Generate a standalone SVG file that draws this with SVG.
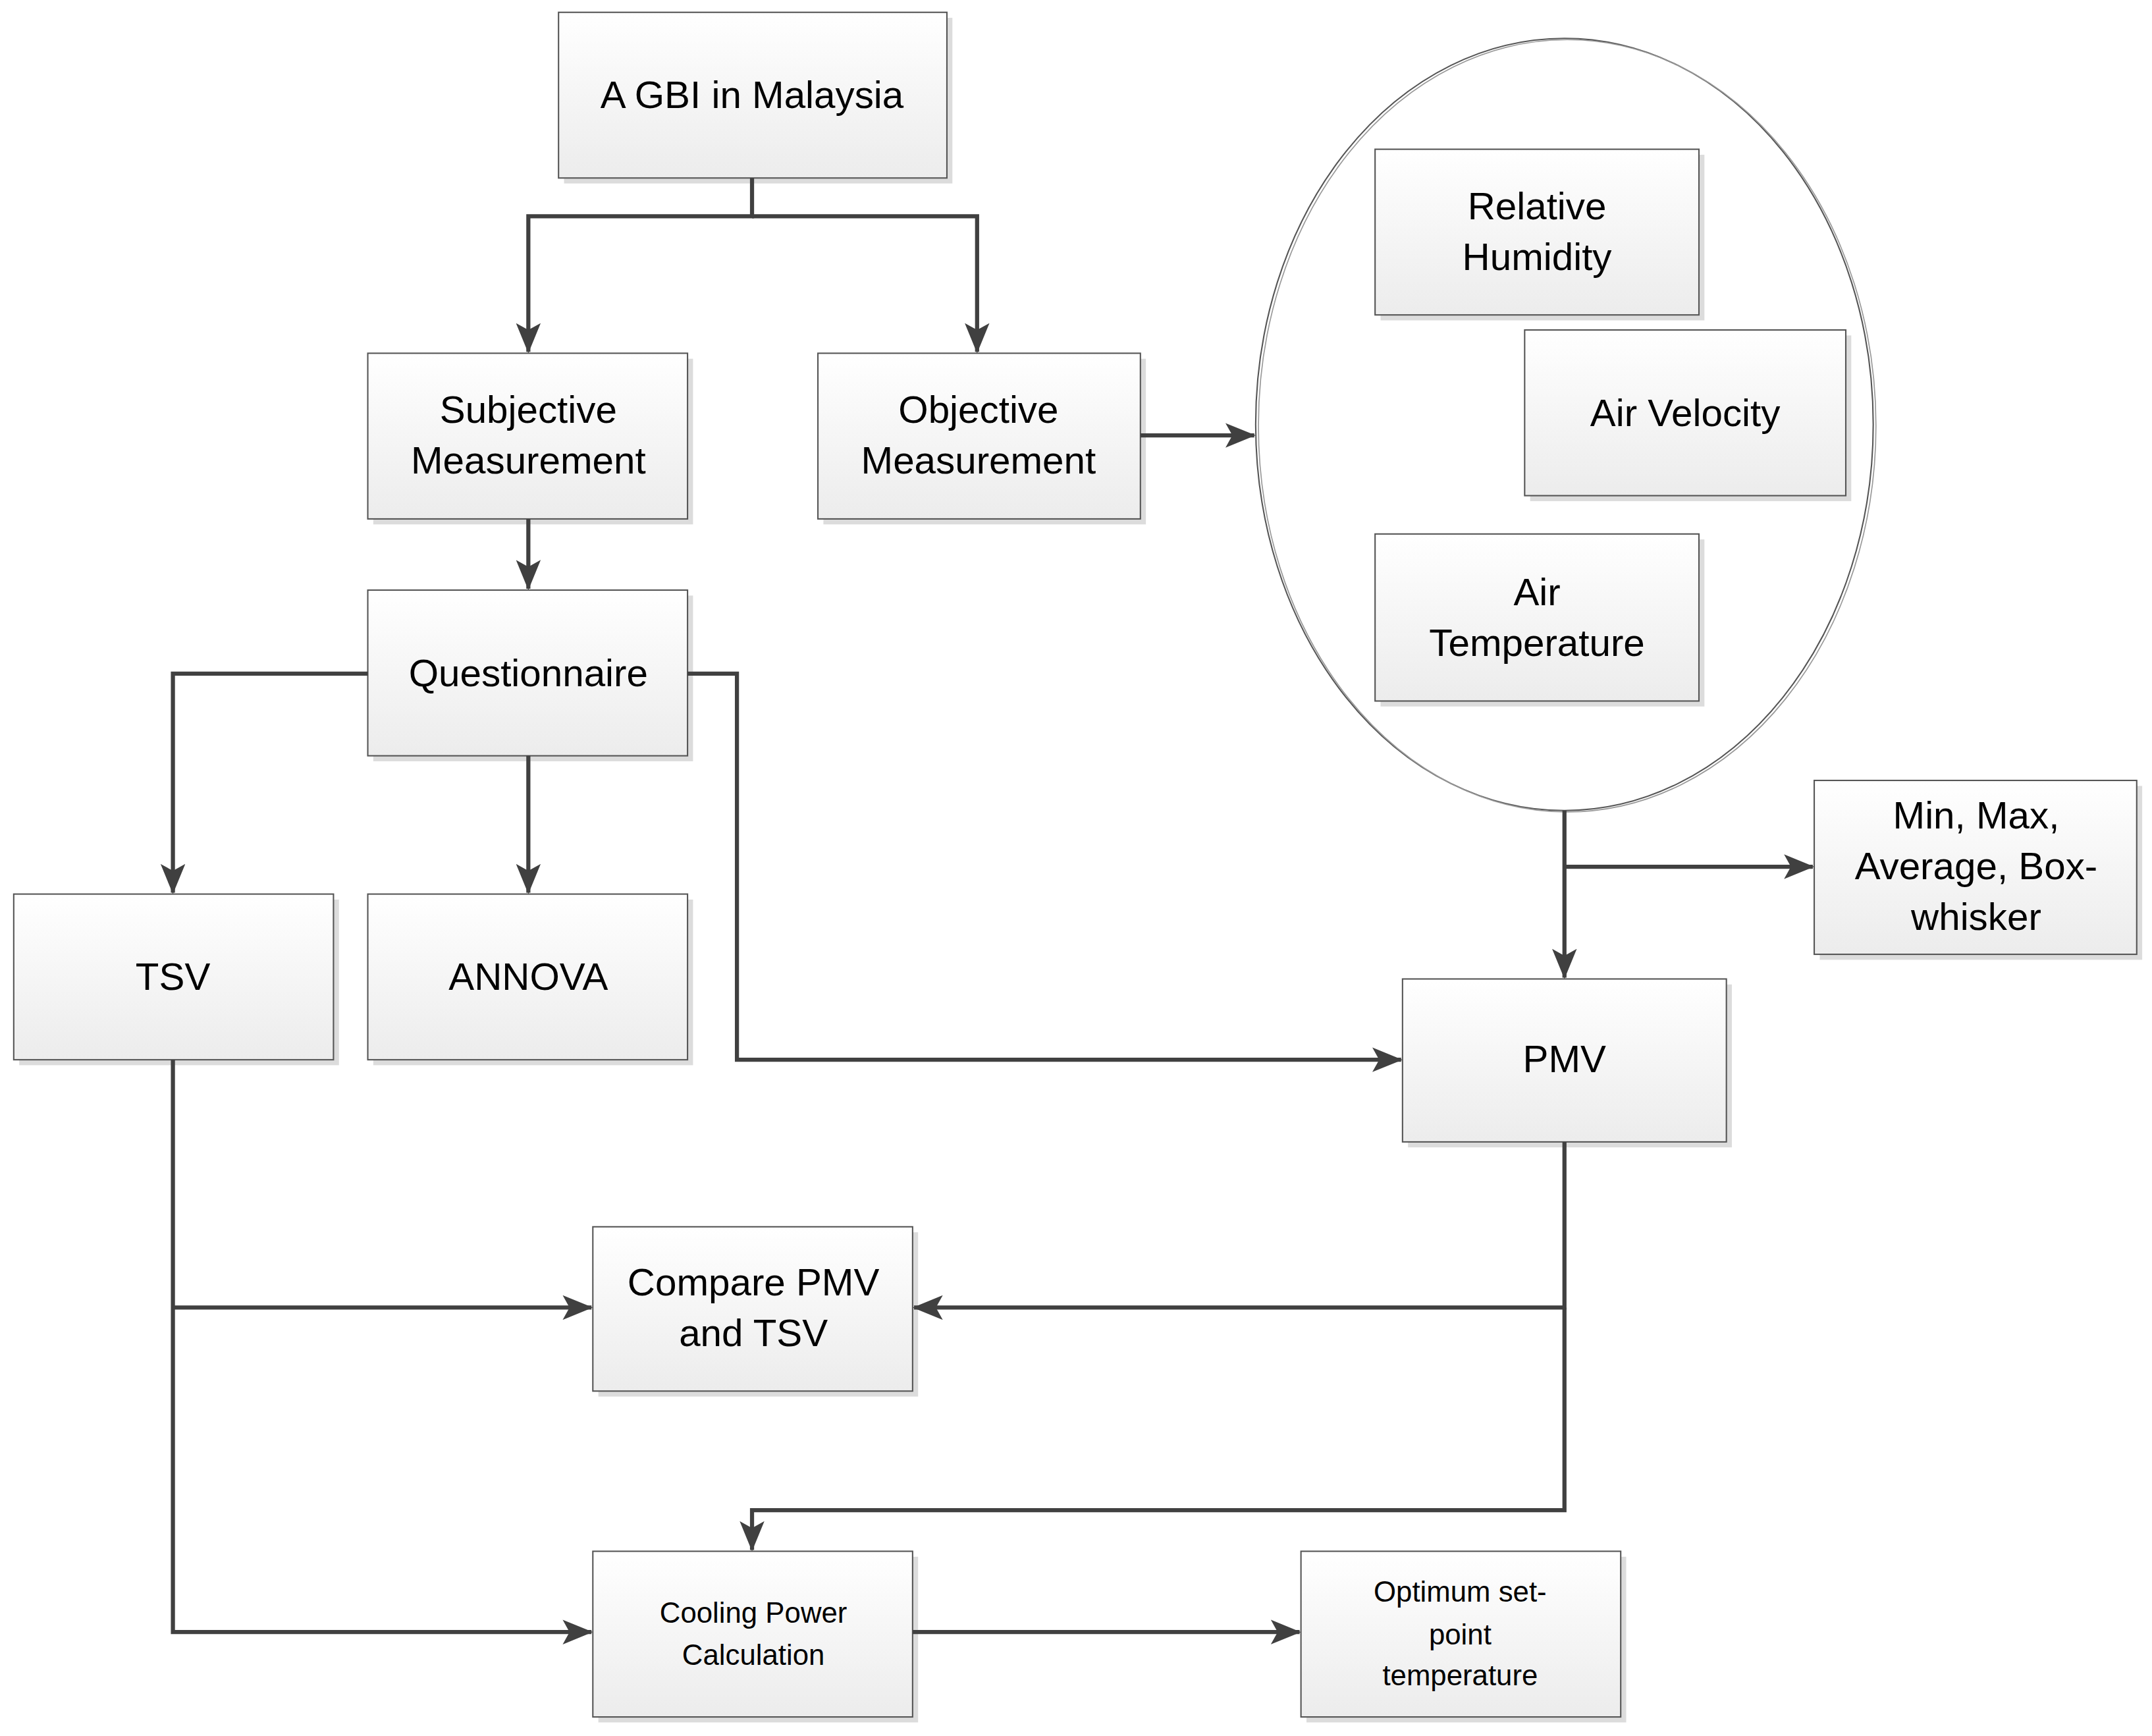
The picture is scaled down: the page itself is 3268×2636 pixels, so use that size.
<svg xmlns="http://www.w3.org/2000/svg" width="3268" height="2636" viewBox="0 0 3268 2636">
<defs>
<linearGradient id="g" x1="0" y1="0" x2="0" y2="1"><stop offset="0" stop-color="#ffffff"/><stop offset="1" stop-color="#ececec"/></linearGradient>
<marker id="a" markerUnits="userSpaceOnUse" viewBox="0 0 22 18" refX="21" refY="9" markerWidth="22" markerHeight="18" orient="auto"><path d="M0,0 L22,9 L0,18 L5,9 Z" fill="#404040"/></marker>
<style>
.b{fill:url(#g);stroke:#555;stroke-width:1}
.s{fill:#dcdcdc}
.t{font-family:"Liberation Sans",Arial,sans-serif;font-size:28px;fill:#000;text-anchor:middle}
.ts{font-family:"Liberation Sans",Arial,sans-serif;font-size:21px;fill:#000;text-anchor:middle}
.c{fill:none;stroke:#404040;stroke-width:3}
</style>
</defs>
<rect width="3268" height="2636" fill="#fff"/>
<g transform="scale(2.084,2.079)">
<g id="ellipse"><ellipse cx="1140" cy="310" rx="225" ry="282" fill="#fff" stroke="#555" stroke-width="1"/><ellipse cx="1142" cy="311" rx="225" ry="282" fill="none" stroke="#999" stroke-width="0.8"/></g>
<g id="n1"><rect class="s" x="411" y="13" width="283" height="121"/><rect class="b" x="407" y="9" width="283" height="121"/><text class="t" x="548" y="79">A GBI in Malaysia</text></g>
<g id="n2"><rect class="s" x="272" y="262" width="233" height="121"/><rect class="b" x="268" y="258" width="233" height="121"/><text class="t" x="385" y="309">Subjective</text><text class="t" x="385" y="346">Measurement</text></g>
<g id="n3"><rect class="s" x="600" y="262" width="235" height="121"/><rect class="b" x="596" y="258" width="235" height="121"/><text class="t" x="713" y="309">Objective</text><text class="t" x="713" y="346">Measurement</text></g>
<g id="n4"><rect class="s" x="272" y="435" width="233" height="121"/><rect class="b" x="268" y="431" width="233" height="121"/><text class="t" x="385" y="501">Questionnaire</text></g>
<g id="n5"><rect class="s" x="14" y="657" width="233" height="121"/><rect class="b" x="10" y="653" width="233" height="121"/><text class="t" x="126" y="723">TSV</text></g>
<g id="n6"><rect class="s" x="272" y="657" width="233" height="121"/><rect class="b" x="268" y="653" width="233" height="121"/><text class="t" x="385" y="723">ANNOVA</text></g>
<g id="n7"><rect class="s" x="1006" y="113" width="236" height="121"/><rect class="b" x="1002" y="109" width="236" height="121"/><text class="t" x="1120" y="160">Relative</text><text class="t" x="1120" y="197">Humidity</text></g>
<g id="n8"><rect class="s" x="1115" y="245" width="234" height="121"/><rect class="b" x="1111" y="241" width="234" height="121"/><text class="t" x="1228" y="311">Air Velocity</text></g>
<g id="n9"><rect class="s" x="1006" y="394" width="236" height="122"/><rect class="b" x="1002" y="390" width="236" height="122"/><text class="t" x="1120" y="442">Air</text><text class="t" x="1120" y="479">Temperature</text></g>
<g id="n10"><rect class="s" x="1326" y="574" width="235" height="127"/><rect class="b" x="1322" y="570" width="235" height="127"/><text class="t" x="1440" y="605">Min, Max,</text><text class="t" x="1440" y="642">Average, Box-</text><text class="t" x="1440" y="679">whisker</text></g>
<g id="n11"><rect class="s" x="1026" y="719" width="236" height="119"/><rect class="b" x="1022" y="715" width="236" height="119"/><text class="t" x="1140" y="783">PMV</text></g>
<g id="n12"><rect class="s" x="436" y="900" width="233" height="120"/><rect class="b" x="432" y="896" width="233" height="120"/><text class="t" x="549" y="946">Compare PMV</text><text class="t" x="549" y="983">and TSV</text></g>
<g id="n13"><rect class="s" x="436" y="1137" width="233" height="121"/><rect class="b" x="432" y="1133" width="233" height="121"/><text class="ts" x="549" y="1185">Cooling Power</text><text class="ts" x="549" y="1216">Calculation</text></g>
<g id="n14"><rect class="s" x="952" y="1137" width="233" height="121"/><rect class="b" x="948" y="1133" width="233" height="121"/><text class="ts" x="1064" y="1170">Optimum set-</text><text class="ts" x="1064" y="1201">point</text><text class="ts" x="1064" y="1231">temperature</text></g>
<g id="connectors">
<path class="c" d="M548,130 V158 H385 V257" marker-end="url(#a)"/>
<path class="c" d="M548,158 H712 V257" marker-end="url(#a)"/>
<path class="c" d="M385,379 V430" marker-end="url(#a)"/>
<path class="c" d="M831,318 H914" marker-end="url(#a)"/>
<path class="c" d="M268,492 H126 V652" marker-end="url(#a)"/>
<path class="c" d="M385,552 V652" marker-end="url(#a)"/>
<path class="c" d="M501,492 H537 V774 H1021" marker-end="url(#a)"/>
<path class="c" d="M1140,592 V714" marker-end="url(#a)"/>
<path class="c" d="M1140,633 H1321" marker-end="url(#a)"/>
<path class="c" d="M1140,834 V955 H666" marker-end="url(#a)"/>
<path class="c" d="M1140,955 V1103 H548 V1132" marker-end="url(#a)"/>
<path class="c" d="M126,774 V1192 H431" marker-end="url(#a)"/>
<path class="c" d="M126,955 H431" marker-end="url(#a)"/>
<path class="c" d="M665,1192 H947" marker-end="url(#a)"/>
</g>
</g>
</svg>
